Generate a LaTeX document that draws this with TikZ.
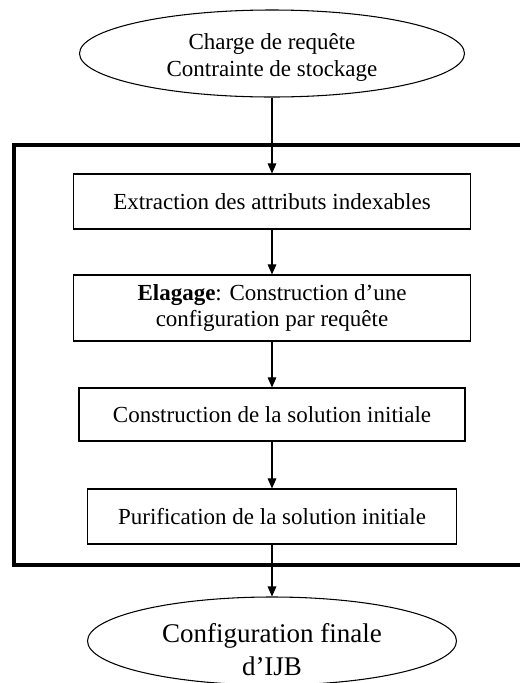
\documentclass[tikz,border=0pt]{standalone}
\usepackage{fontspec}
\setmainfont{Liberation Serif}
\usetikzlibrary{shapes.geometric,arrows.meta}
\begin{document}
\begin{tikzpicture}[x=0.75pt,y=-0.75pt,
  boxnode/.style={draw, line width=0.9pt, inner sep=0pt, align=center,
    font=\fontsize{17.25}{19.5}\selectfont},
  ellnode/.style={draw, ellipse, line width=0.8pt, inner sep=0pt, align=center},
  flow/.style={line width=0.8pt, -{Triangle[length=7.5pt,width=6.5pt]}}]
\useasboundingbox (0,0) rectangle (520,683);
% frame
\draw[line width=3pt] (13.5,145) rectangle (545,565);
% nodes
\node[ellnode, minimum width=288.75pt, minimum height=65.25pt] (in) at (272,53.5) {};
\node[font=\fontsize{17.25}{20.25}\selectfont, align=center, inner sep=0pt]
  (intext) at ([yshift=-3pt]in.center) {Charge de requête\\Contrainte de stockage};
\node[boxnode, minimum width=297.75pt, minimum height=41.25pt] (b1) at (272,201.5)
  {Extraction des attributs indexables};
\node[boxnode, minimum width=297.75pt, minimum height=49.5pt] (b2) at (272,308)
  {\textbf{Elagage}: Construction d’une\\configuration par requête};
\node[boxnode, minimum width=289.5pt, minimum height=39.75pt] (b3) at (272,414.5)
  {Construction de la solution initiale};
\node[boxnode, minimum width=276.75pt, minimum height=41.25pt] (b4) at (272,516.5)
  {Purification de la solution initiale};
\node[ellnode, minimum width=276.75pt, minimum height=66pt] (out) at (272,641) {};
\node[font=\fontsize{20.25}{24.75}\selectfont, align=center, inner sep=0pt]
  (outtext) at ([yshift=-6.4pt]out.center) {Configuration finale\\d’IJB};
% connectors
\draw[flow] (in.south) -- (b1.north);
\draw[flow] (b1.south) -- (b2.north);
\draw[flow] (b2.south) -- (b3.north);
\draw[flow] (b3.south) -- (b4.north);
\draw[flow] (b4.south) -- (out.north);
\end{tikzpicture}
\end{document}
